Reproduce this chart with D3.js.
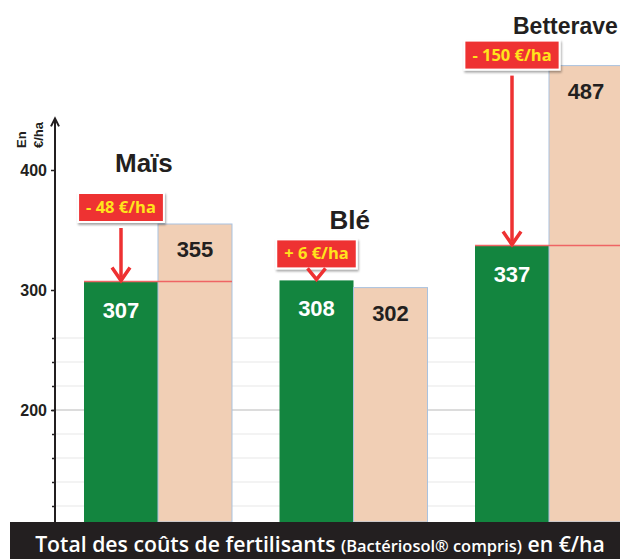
<!DOCTYPE html>
<html>
<head>
    <meta charset='utf-8'/>
    <title>Total des coûts de fertilisants</title>
    <style>
        body { margin: 0; background: #fff; }
        .tick text { font-family: "Liberation Sans", Arial, sans-serif; font-weight: bold; font-size: 16px; fill: #231f20; }
        .tick line { stroke: #231f20; stroke-width: 1.5; }
        .val { font-family: "Liberation Sans", Arial, sans-serif; font-weight: bold; font-size: 22px; text-anchor: middle; }
        .crop { font-family: "Liberation Sans", Arial, sans-serif; font-weight: bold; fill: #231f20; }
        .ecart { font-family: "Open Sans", sans-serif; font-weight: bold; font-size: 16.5px; fill: #ffe41c; text-anchor: middle; }
        .unit { font-family: "Liberation Sans", Arial, sans-serif; font-weight: bold; font-size: 13px; fill: #231f20; }
        .footer { font-family: "Open Sans", sans-serif; font-weight: 600; fill: #fff; text-anchor: middle; }
    </style>
</head>
<body>
<div id="chart"></div>

<script src="https://cdnjs.cloudflare.com/ajax/libs/d3/7.8.5/d3.min.js"></script>
<script type="text/javascript">

    // data
    var cultures = ["Maïs", "Blé", "Betterave"];
    var coutBacteriosol = [307, 308, 337];
    var coutReference = [355, 302, 487];
    var series = ["bacteriosol", "reference"];
    var yLabels = [200, 300, 400];
    var yMinor = [120, 140, 160, 180, 200, 220, 240, 260];
    var axisMax = 443;

    // layout tweaks for the callouts (px)
    var boxLift = [2, 12, -4],
        titleGap = [21, 10, 7],
        titleDx = [-6, 13, 1],
        titleSize = [26, 26, 23];

    // dims
    var svg_dx = 620,
        svg_dy = 559,
        plotBottom = 522,
        axisX = 55;

    var green = "#13853f",
        peach = "#f1cfb5",
        red = "#ee3132";

    // scales
    var x = d3.scaleBand().domain(cultures).range([84, 623]).paddingInner(0.243).paddingOuter(0),
        xs = d3.scaleBand().domain(series).range([0, x.bandwidth()]),
        y = d3.scaleLinear().domain([100, 500]).range([530, 50]);

    var svg = d3.select("#chart")
        .append("svg")
        .attr("width", svg_dx)
        .attr("height", svg_dy);

    var defs = svg.append("defs");
    var shadow = defs.append("filter").attr("id", "shadow")
        .attr("x", "-20%").attr("y", "-20%").attr("width", "140%").attr("height", "160%");
    shadow.append("feDropShadow")
        .attr("dx", 1).attr("dy", 2).attr("stdDeviation", 1.2)
        .attr("flood-color", "#000").attr("flood-opacity", 0.35);

    /* gridlines */
    svg.append("g")
        .selectAll("line")
        .data(yMinor)
        .enter()
        .append("line")
        .attr("x1", axisX)
        .attr("x2", svg_dx)
        .attr("y1", d => y(d))
        .attr("y2", d => y(d))
        .attr("stroke", d => d == 200 ? "#dcdcdc" : "#efefef")
        .attr("stroke-width", d => d == 200 ? 2 : 1.5);

    /* bars */
    var groups = svg.append("g")
        .selectAll("g")
        .data(cultures)
        .enter()
        .append("g")
        .attr("transform", d => "translate(" + x(d) + ",0)");

    groups.append("rect")
        .attr("x", xs("bacteriosol"))
        .attr("y", (d, i) => y(coutBacteriosol[i]))
        .attr("width", xs.bandwidth())
        .attr("height", (d, i) => plotBottom - y(coutBacteriosol[i]))
        .attr("fill", green);

    groups.append("rect")
        .attr("x", xs("reference"))
        .attr("y", (d, i) => y(coutReference[i]))
        .attr("width", xs.bandwidth())
        .attr("height", (d, i) => plotBottom - y(coutReference[i]))
        .attr("fill", peach)
        .attr("stroke", "#a9c2df")
        .attr("stroke-width", 1);

    // red level line when the Bactériosol cost is lower
    groups.filter((d, i) => coutBacteriosol[i] < coutReference[i])
        .append("line")
        .attr("x1", 0)
        .attr("x2", x.bandwidth())
        .attr("y1", d => y(coutBacteriosol[cultures.indexOf(d)]))
        .attr("y2", d => y(coutBacteriosol[cultures.indexOf(d)]))
        .attr("stroke", "#ef6464")
        .attr("stroke-width", 1.5);

    groups.append("text")
        .attr("class", "val")
        .attr("x", xs("bacteriosol") + xs.bandwidth() / 2)
        .attr("y", (d, i) => y(coutBacteriosol[i]) + 36)
        .attr("fill", "#fff")
        .text((d, i) => coutBacteriosol[i]);

    groups.append("text")
        .attr("class", "val")
        .attr("x", xs("reference") + xs.bandwidth() / 2)
        .attr("y", (d, i) => y(coutReference[i]) + 33)
        .attr("fill", "#231f20")
        .text((d, i) => coutReference[i]);

    /* callouts */
    var fmtEcart = d => (d > 0 ? "+ " : "- ") + Math.abs(d) + " €/ha";

    groups.each(function (d, i) {
        var g = d3.select(this),
            cx = xs("bacteriosol") + xs.bandwidth() / 2,
            top = y(d3.max([coutBacteriosol[i], coutReference[i]])),
            boxBottom = top - boxLift[i],
            boxH = 29,
            tip = y(coutBacteriosol[i]) - 1;

        var label = g.append("text")
            .attr("class", "ecart")
            .attr("x", cx)
            .attr("y", boxBottom - 9)
            .text(fmtEcart(coutBacteriosol[i] - coutReference[i]));

        var w = label.node().getComputedTextLength() + 16;

        g.insert("rect", "text.ecart")
            .attr("x", cx - w / 2)
            .attr("y", boxBottom - boxH)
            .attr("width", w)
            .attr("height", boxH)
            .attr("fill", red)
            .attr("stroke", "#fff")
            .attr("stroke-width", 2)
            .attr("filter", "url(#shadow)");

        // arrow
        if (tip - boxBottom > 22) {
            g.append("line")
                .attr("x1", cx).attr("x2", cx)
                .attr("y1", boxBottom + 6).attr("y2", tip - 3)
                .attr("stroke", red)
                .attr("stroke-width", 3.5);
        }
        var ah = Math.min(13, tip - boxBottom);
        g.append("path")
            .attr("d", "M" + (cx - 9) + "," + (tip - ah) + "L" + cx + "," + tip + "L" + (cx + 9) + "," + (tip - ah))
            .attr("fill", "none")
            .attr("stroke", red)
            .attr("stroke-width", 3.5)
            .attr("stroke-linejoin", "miter");

        g.append("text")
            .attr("class", "crop")
            .attr("x", cx + titleDx[i])
            .attr("y", boxBottom - boxH - titleGap[i])
            .attr("font-size", titleSize[i])
            .text(d);
    });

    /* y axis */
    svg.append("g")
        .attr("transform", "translate(" + axisX + ",0)")
        .call(d3.axisLeft(y).tickValues(yMinor).tickSize(3).tickFormat(""))
        .call(g => g.select(".domain").remove());

    svg.append("g")
        .attr("transform", "translate(" + axisX + ",0)")
        .call(d3.axisLeft(y).tickValues(yLabels).tickSize(4).tickPadding(4).tickFormat(d3.format("d")))
        .call(g => g.select(".domain").remove());

    svg.append("line")
        .attr("x1", axisX).attr("x2", axisX)
        .attr("y1", plotBottom).attr("y2", y(axisMax))
        .attr("stroke", "#231f20")
        .attr("stroke-width", 2);

    svg.append("path")
        .attr("d", "M" + (axisX - 4) + "," + (y(axisMax) + 8) + "L" + axisX + "," + y(axisMax) + "L" + (axisX + 4) + "," + (y(axisMax) + 8))
        .attr("fill", "none")
        .attr("stroke", "#231f20")
        .attr("stroke-width", 2);

    svg.append("text")
        .attr("class", "unit")
        .attr("transform", "translate(26,148) rotate(-90)")
        .text("En");

    svg.append("text")
        .attr("class", "unit")
        .attr("transform", "translate(43,148) rotate(-90)")
        .text("€/ha");

    /* footer band */
    svg.append("rect")
        .attr("x", 10)
        .attr("y", plotBottom)
        .attr("width", svg_dx - 10)
        .attr("height", svg_dy - plotBottom)
        .attr("fill", "#231f20");

    var footer = svg.append("text")
        .attr("class", "footer")
        .attr("x", 320)
        .attr("y", 552);

    footer.append("tspan").attr("font-size", 20).text("Total des coûts de fertilisants ");
    footer.append("tspan").attr("font-size", 15.5).text("(Bactériosol® compris)");
    footer.append("tspan").attr("font-size", 20).text(" en €/ha");

    // fit footer to the band width
    var fw = footer.node().getBBox().width,
        k = 570 / fw;
    footer.selectAll("tspan").attr("font-size", function () {
        return +d3.select(this).attr("font-size") * k;
    });

</script>

</body>
</html>
